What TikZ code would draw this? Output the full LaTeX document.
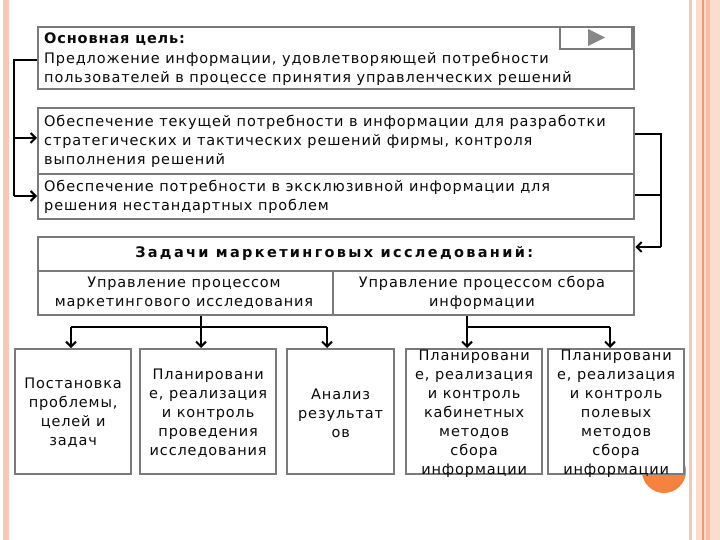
\documentclass[tikz,border=0pt]{standalone}
\usepackage{fontspec}
\setmainfont{DejaVu Sans}[LetterSpace=6]
\usetikzlibrary{arrows.meta,calc}
\definecolor{bord}{HTML}{7A7A7A}
\definecolor{pinkbar}{HTML}{F6C6B6}
\definecolor{peach}{HTML}{FCDCCC}
\definecolor{peachdark}{HTML}{F9BCA6}
\definecolor{orangeline}{HTML}{EE9A74}
\definecolor{dot}{HTML}{F5823F}
\definecolor{txt}{HTML}{0A0A0A}
\tikzset{
  boxe/.style={draw=bord, line width=2.3pt, fill=white, rectangle, inner sep=0pt},
  txtf/.style={font=\fontsize{14.5}{19}\selectfont, text=txt, inner sep=0pt},
  conn/.style={draw=black, line width=2.2pt},
  connb/.style={draw=black, line width=2.8pt},
  tip/.style={-{Straight Barb[length=5pt,width=10pt,line width=2pt]}},
}
\begin{document}
\begin{tikzpicture}[x=1pt,y=-1pt]
\useasboundingbox (0,0) rectangle (720,540);
\fill[white] (0,0) rectangle (720,540);
% slide decoration
\fill[pinkbar] (3,0) rectangle (9,540);
\fill[pinkbar] (689,0) rectangle (692,540);
\fill[peach] (696,0) rectangle (720,540);
\fill[orangeline] (702,0) rectangle (703.5,540);
\fill[peachdark] (706,0) rectangle (710,540);
\fill[dot] (664,471) circle (22);

% top boxes
\node[boxe, minimum width=596pt, minimum height=62pt, anchor=north west] (g) at (37,26) {};
\node[boxe, minimum width=72pt, minimum height=22pt, anchor=north west] (sq) at (559,26) {};
\fill[bord!90] (588,29) -- (605,37.5) -- (588,46) -- cycle;
\node[txtf, anchor=base west, align=left] (gt1) at (44,44) {\textbf{Основная цель:}};
\node[txtf, anchor=base west] (gt2) at (44,64) {Предложение информации, удовлетворяющей потребности};
\node[txtf, anchor=base west] (gt3) at (44,83) {пользователей в процессе принятия управленческих решений};

\node[boxe, minimum width=596pt, minimum height=66pt, anchor=north west] (b2) at (37,107) {};
\node[boxe, minimum width=596pt, minimum height=45pt, anchor=north west] (b3) at (37,173) {};
\node[txtf, anchor=base west] (b2t1) at (44,127) {Обеспечение текущей потребности в информации для разработки};
\node[txtf, anchor=base west] (b2t2) at (44,146) {стратегических и тактических решений фирмы, контроля};
\node[txtf, anchor=base west] (b2t3) at (44,165) {выполнения решений};
\node[txtf, anchor=base west] (b3t1) at (44,192) {Обеспечение потребности в эксклюзивной информации для};
\node[txtf, anchor=base west] (b3t2) at (44,211) {решения нестандартных проблем};

% tasks table
\node[boxe, minimum width=596pt, minimum height=34pt, anchor=north west] (h) at (37,236) {};
\node[boxe, minimum width=295pt, minimum height=44pt, anchor=north west] (c1) at (37,270) {};
\node[boxe, minimum width=301pt, minimum height=44pt, anchor=north west] (c2) at (332,270) {};
\node[txtf, font=\fontsize{14.5}{19}\selectfont\bfseries\addfontfeature{LetterSpace=16}] (ht) at ($(h.center)+(-2,-1)$) {Задачи маркетинговых исследований:};
\node[txtf, align=center] (c1t) at (184,293) {Управление процессом\\маркетингового исследования};
\node[txtf, align=center] (c2t) at (482,293) {Управление процессом сбора\\информации};

% bottom boxes
\node[boxe, minimum width=116pt, minimum height=125pt, anchor=north west] (p1) at (14,348) {};
\node[boxe, minimum width=136pt, minimum height=125pt, anchor=north west] (p2) at (139,348) {};
\node[boxe, minimum width=107pt, minimum height=125pt, anchor=north west] (p3) at (286,348) {};
\node[boxe, minimum width=136pt, minimum height=125pt, anchor=north west] (p4) at (405,348) {};
\node[boxe, minimum width=136pt, minimum height=125pt, anchor=north west] (p5) at (547,348) {};
\node[txtf, align=center] (p1t) at ($(p1.center)+(0,1)$) {Постановка\\проблемы,\\целей и\\задач};
\node[txtf, align=center] (p2t) at ($(p2.center)+(0,2)$) {Планировани\\е, реализация\\и контроль\\проведения\\исследования};
\node[txtf, align=center] (p3t) at ($(p3.center)+(0,2)$) {Анализ\\результат\\ов};
\node[txtf, align=center] (p4t) at ($(p4.center)+(0,2)$) {Планировани\\е, реализация\\и контроль\\кабинетных\\методов\\сбора\\информации};
\node[txtf, align=center] (p5t) at ($(p5.center)+(0,2)$) {Планировани\\е, реализация\\и контроль\\полевых\\методов\\сбора\\информации};

% left connector
\coordinate (lx) at (14,60);
\draw[conn] (g.west |- 0,60) -- (lx) -- (14,196);
\draw[conn, tip] (14,138) -- (b2.west |- 0,138);
\draw[conn, tip] (14,196) -- (b3.west |- 0,196);

% right connector
\draw[conn] (b2.east |- 0,134) -- (661,134) -- (661,247);
\draw[conn] (b3.east |- 0,195) -- (661,195);
\draw[conn, tip] (661,247) -- (h.east |- 0,247);

% lower tree left
\coordinate (j1) at (201,327);
\draw[connb] (c1.south -| j1) -- (j1);
\draw[connb] (71,327) -- (327,327);
\draw[connb, tip] (71,327) -- (p1.north -| 71,0);
\draw[connb, tip] (201,327) -- (p2.north -| 201,0);
\draw[connb, tip] (327,327) -- (p3.north -| 327,0);

% lower tree right
\coordinate (j2) at (467,327);
\draw[connb] (c2.south -| j2) -- (j2);
\draw[connb] (467,327) -- (610,327);
\draw[connb, tip] (467,327) -- (p4.north -| 467,0);
\draw[connb, tip] (610,327) -- (p5.north -| 610,0);
\end{tikzpicture}
\end{document}
